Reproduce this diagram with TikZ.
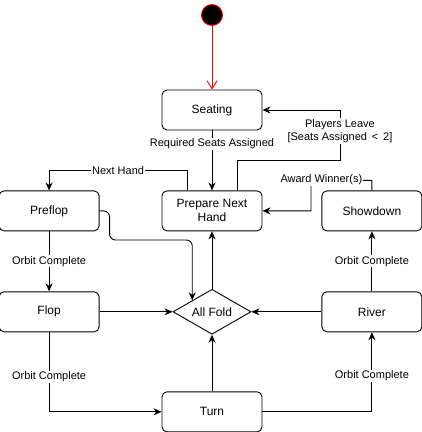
\documentclass[tikz,border=0pt]{standalone}
\usepackage{fontspec}
\setmainfont{Liberation Sans}
\usepackage{xcolor}
\usetikzlibrary{shapes.geometric,arrows.meta,positioning,calc}

\begin{document}
\begin{tikzpicture}[x=1pt, y=-1pt, line width=0.9pt,
    >={Stealth[length=8pt,width=7pt]},
    state/.style={rectangle, draw, rounded corners=5pt, minimum width=100pt, minimum height=40pt, align=center, font=\fontsize{12}{14}\selectfont},
    choice/.style={diamond, draw, inner sep=0pt, aspect=1.7, minimum width=78pt, minimum height=45pt, font=\fontsize{12}{14}\selectfont},
    initial/.style={circle, draw=red, fill=black, minimum size=21pt, inner sep=0pt},
    lbl/.style={fill=white, inner sep=1pt, align=center, font=\fontsize{11}{13}\selectfont}]

    \useasboundingbox (0,0) rectangle (422,432);

    % Setup
    \node[initial] (start) at (212,15) {};
    \node[state] (seating) at (212,110) {Seating};
    \node[state, below=60pt of seating] (prepare) {Prepare Next\\Hand};

    % Left side - betting rounds
    \node[state, left=62pt of prepare] (preflop) {Preflop};
    \node[state, below=60pt of preflop] (flop) {Flop};

    % Right side
    \node[state, right=59pt of prepare] (showdown) {Showdown};
    \node[state, below=60pt of showdown] (river) {River};

    % Middle
    \node[state, below=160pt of prepare] (turn) {Turn};
    \node[choice] (allfold) at (prepare |- flop) {All Fold};

    % Arrows
    \draw[-{Straight Barb[length=8pt,width=10pt]}, red] (start) -- (seating);
    \draw[->] (seating) -- node[lbl, pos=0.22] {Required Seats Assigned} (prepare);
    \draw[->] ($(prepare.north)+(25,0)$) |- (340,160) -- node[lbl, pos=0.58] {Players Leave\\{}[Seats Assigned \,<\, 2]} (340,110) -- (seating.east);
    \draw[->] ($(prepare.north)+(-25,0)$) -- ++(0,-20) -| node[lbl, pos=0.25] {Next Hand} (preflop.north);
    \draw[->] (preflop) -- node[lbl] {Orbit Complete} (flop);
    \draw[->, rounded corners=6pt] (preflop.east) -- ++(10,0) |- (allfold.north west |- 0,240) -- (allfold.north west);
    \draw[->] (flop) -- (allfold);
    \draw[->] (flop.south) |- node[lbl, pos=0.28] {Orbit Complete} (turn.west);
    \draw[->] (turn) -- (allfold);
    \draw[->] (turn.east) -| node[lbl, pos=0.725] {Orbit Complete} (river.south);
    \draw[->] (river) -- (allfold);
    \draw[->] (river) -- node[lbl] {Orbit Complete} (showdown);
    \draw[->] (allfold) -- (prepare);
    \draw[->] (showdown.north) -- ++(0,-10) -- node[lbl, pos=0.83] {Award Winner(s)} (311,180) |- (prepare.east);

\end{tikzpicture}
\end{document}
